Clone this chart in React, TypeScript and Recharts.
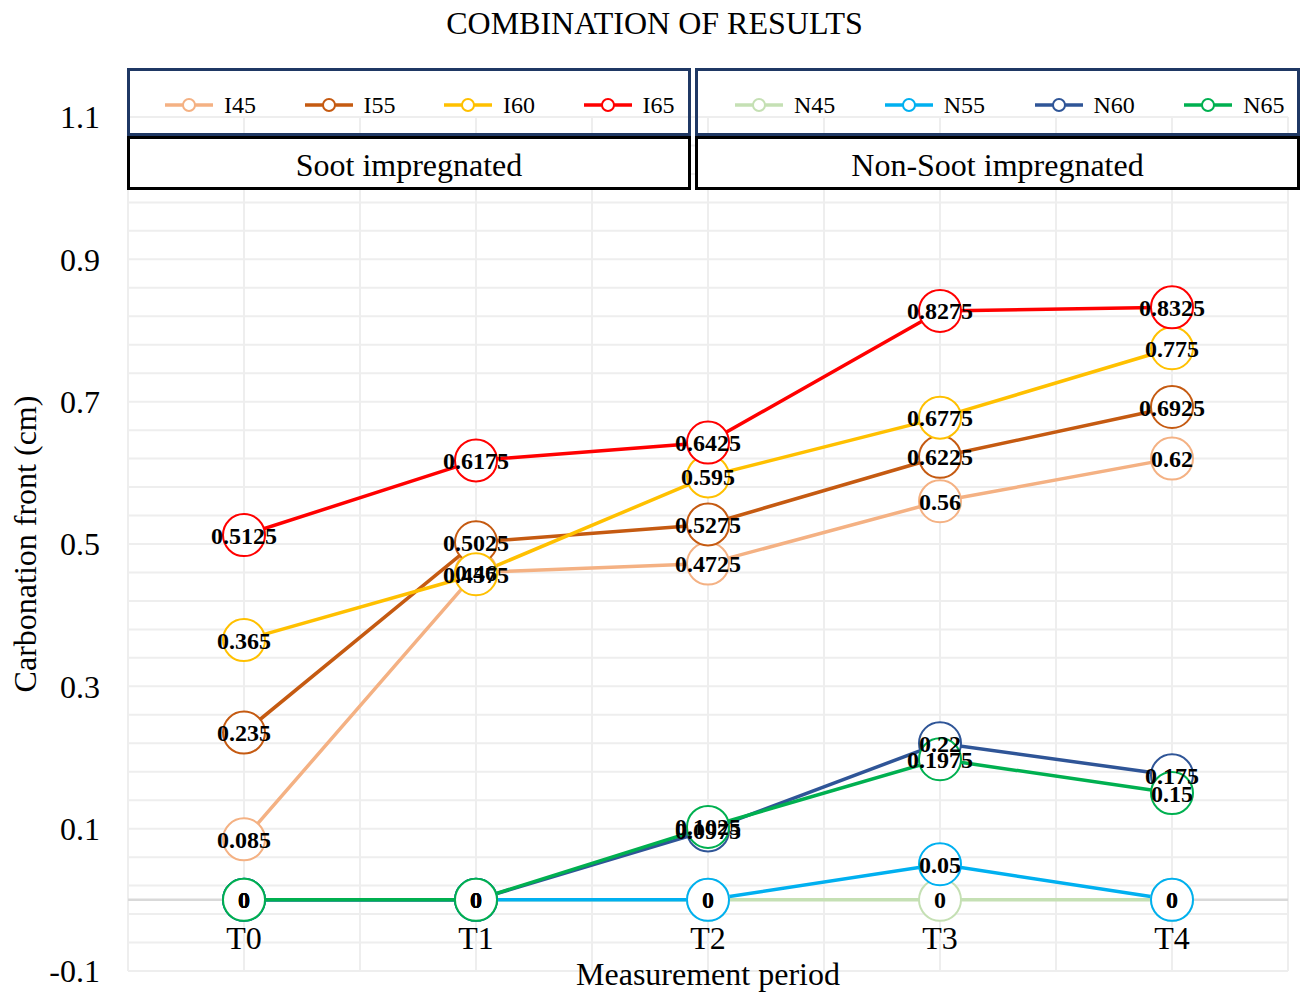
import React from "react";
import {
  LineChart,
  Line,
  XAxis,
  YAxis,
  CartesianGrid,
  ReferenceLine,
  LabelList,
} from "recharts";

const categories = ["T0", "T1", "T2", "T3", "T4"];

const i45 = [0.085, 0.46, 0.4725, 0.56, 0.62];
const i55 = [0.235, 0.5025, 0.5275, 0.6225, 0.6925];
const i60 = [0.365, 0.4575, 0.595, 0.6775, 0.775];
const i65 = [0.5125, 0.6175, 0.6425, 0.8275, 0.8325];
const n45 = [0, 0, 0, 0, 0];
const n55 = [0, 0, 0, 0.05, 0];
const n60 = [0, 0, 0.0975, 0.22, 0.175];
const n65 = [0, 0, 0.1025, 0.1975, 0.15];

const majorTicks = [-0.1, 0.1, 0.3, 0.5, 0.7, 0.9, 1.1];
const gridTicks = [
  -0.1, -0.06, -0.02, 0.02, 0.06, 0.1, 0.14, 0.18, 0.22, 0.26, 0.3, 0.34,
  0.38, 0.42, 0.46, 0.5, 0.54, 0.58, 0.62, 0.66, 0.7, 0.74, 0.78, 0.82, 0.86,
  0.9, 0.94, 0.98, 1.02, 1.06, 1.1,
];

const soot = [
  { key: "I45", color: "#f4b183", values: i45 },
  { key: "I55", color: "#c55a11", values: i55 },
  { key: "I60", color: "#ffc000", values: i60 },
  { key: "I65", color: "#ff0000", values: i65 },
];
const nonSoot = [
  { key: "N45", color: "#c5e0b4", values: n45 },
  { key: "N55", color: "#00b0f0", values: n55 },
  { key: "N60", color: "#2f5597", values: n60 },
  { key: "N65", color: "#00b050", values: n65 },
];
const allSeries = [...soot, ...nonSoot];

const data = categories.map((t, i) => {
  const row: Record<string, string | number> = { t };
  allSeries.forEach((s) => {
    row[s.key] = s.values[i];
  });
  return row;
});

const FONT = '"Liberation Serif", "Times New Roman", serif';

function LegendBox({ left, width, pad, items, caption }: any) {
  return (
    <>
      <div
        style={{
          position: "absolute",
          left,
          top: 68,
          width,
          height: 68,
          boxSizing: "border-box",
          border: "3px solid #1f3864",
          display: "flex",
          paddingTop: 22,
        }}
      >
        {items.map((s: any) => (
          <div
            key={s.key}
            style={{
              width: "25%",
              display: "flex",
              alignItems: "center",
              height: 24,
              paddingLeft: pad,
              boxSizing: "border-box",
            }}
          >
            <svg width={48} height={16}>
              <line x1={0} y1={8} x2={48} y2={8} stroke={s.color} strokeWidth={3.5} />
              <circle cx={24} cy={8} r={6} fill="#fff" stroke={s.color} strokeWidth={2} />
            </svg>
            <span style={{ marginLeft: 11, fontSize: 24, lineHeight: "24px", fontFamily: FONT }}>
              {s.key}
            </span>
          </div>
        ))}
      </div>
      <div
        style={{
          position: "absolute",
          left,
          top: 136,
          width,
          height: 54,
          boxSizing: "border-box",
          border: "3px solid #000",
          background: "#fff",
          display: "flex",
          alignItems: "center",
          justifyContent: "center",
          paddingTop: 5,
          fontSize: 32,
          fontFamily: FONT,
        }}
      >
        {caption}
      </div>
    </>
  );
}

const XTick = ({ x, y, payload }: any) => (
  <text x={x} y={y} dy={-22} textAnchor="middle" fontSize={32} fill="#000" fontFamily={FONT}>
    {payload.value}
  </text>
);

export default function App() {
  return (
    <div
      style={{
        position: "fixed",
        left: 0,
        top: 0,
        width: 1305,
        height: 994,
        fontFamily: FONT,
        color: "#000",
        background: "#fff",
      }}
    >
      <LineChart
        width={1305}
        height={994}
        data={data}
        margin={{ top: 117, right: 17, left: 0, bottom: 0 }}
      >
        <CartesianGrid
          stroke="#eeeeee"
          strokeWidth={2}
          verticalCoordinatesGenerator={({ offset }: any) =>
            Array.from({ length: 11 }, (_, i) => offset.left + (i * offset.width) / 10)
          }
        />
        <XAxis
          dataKey="t"
          padding={{ left: 116, right: 116 }}
          axisLine={false}
          tickLine={false}
          tickSize={0}
          tickMargin={0}
          height={23}
          tick={<XTick />}
          label={{
            content: ({ viewBox }: any) => (
              <text
                x={viewBox.x + viewBox.width / 2}
                y={985}
                textAnchor="middle"
                fontSize={32}
                fontFamily={FONT}
                fill="#000"
              >
                Measurement period
              </text>
            ),
          }}
        />
        <YAxis
          type="number"
          domain={[-0.1, 1.1]}
          ticks={gridTicks}
          interval={0}
          width={128}
          axisLine={false}
          tickLine={false}
          tickSize={0}
          tickMargin={28}
          tick={{ fontSize: 32, fill: "#000", fontFamily: FONT }}
          tickFormatter={(v: number) =>
            majorTicks.some((m) => Math.abs(m - v) < 1e-9) ? String(v) : ""
          }
          label={{
            content: ({ viewBox }: any) => {
              const cy = viewBox.y + viewBox.height / 2;
              return (
                <text
                  x={36}
                  y={cy}
                  transform={`rotate(-90, 36, ${cy})`}
                  textAnchor="middle"
                  fontSize={32}
                  fontFamily={FONT}
                  fill="#000"
                >
                  Carbonation front (cm)
                </text>
              );
            },
          }}
        />
        <ReferenceLine y={0} stroke="#d9d9d9" strokeWidth={2.5} />
        {allSeries.map((s) => (
          <Line
            key={s.key}
            dataKey={s.key}
            stroke={s.color}
            strokeWidth={3.5}
            dot={{ r: 21, fill: "#fff", stroke: s.color, strokeWidth: 2 }}
            activeDot={false}
            isAnimationActive={false}
          />
        ))}
        {allSeries.map((s) => (
          <Line
            key={s.key + "-lbl"}
            dataKey={s.key}
            stroke="none"
            dot={false}
            activeDot={false}
            legendType="none"
            isAnimationActive={false}
          >
            <LabelList
              dataKey={s.key}
              position="center"
              fontSize={24}
              fontWeight="bold"
              fill="#000"
              fontFamily={FONT}
            />
          </Line>
        ))}
      </LineChart>

      <div
        style={{
          position: "absolute",
          left: 0,
          top: 7,
          width: 1305,
          paddingLeft: 4,
          boxSizing: "border-box",
          textAlign: "center",
          fontSize: 32,
          lineHeight: "32px",
        }}
      >
        COMBINATION OF RESULTS
      </div>
      <LegendBox left={127} width={564} pad={35} items={soot} caption="Soot impregnated" />
      <LegendBox left={695} width={605} pad={37} items={nonSoot} caption="Non-Soot impregnated" />
    </div>
  );
}
